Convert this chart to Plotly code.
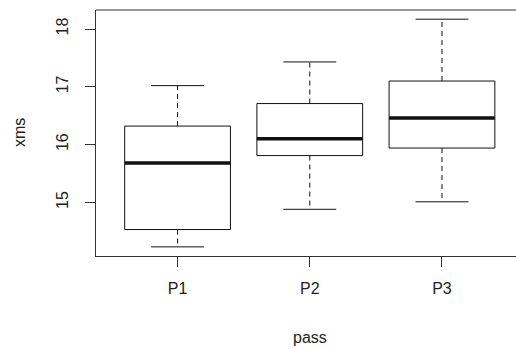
import plotly.graph_objects as go

categories = ["P1", "P2", "P3"]
lower = [14.23, 14.88, 15.01]
q1 = [14.53, 15.81, 15.94]
median = [15.68, 16.10, 16.46]
q3 = [16.32, 16.71, 17.10]
upper = [17.02, 17.43, 18.17]
y_ticks = [15, 16, 17, 18]

BOX_HALF = 0.4
CAP_HALF = 0.2
INK = "#111111"
FRAME = "#333333"
FONT = "Liberation Sans, Arial, sans-serif"

fig = go.Figure()
xpos = list(range(1, len(categories) + 1))

for i, x in enumerate(xpos):
    # dashed whiskers
    for a, b in ((q3[i], upper[i]), (q1[i], lower[i])):
        fig.add_trace(go.Scatter(x=[x, x], y=[a, b], mode="lines",
                                 line=dict(color=INK, width=1, dash="5px,4px"),
                                 hoverinfo="skip", showlegend=False))
    # caps
    for v in (upper[i], lower[i]):
        fig.add_trace(go.Scatter(x=[x - CAP_HALF, x + CAP_HALF], y=[v, v], mode="lines",
                                 line=dict(color=INK, width=1),
                                 hoverinfo="skip", showlegend=False))
    # box
    fig.add_trace(go.Scatter(
        x=[x - BOX_HALF, x + BOX_HALF, x + BOX_HALF, x - BOX_HALF, x - BOX_HALF],
        y=[q1[i], q1[i], q3[i], q3[i], q1[i]],
        mode="lines", fill="toself", fillcolor="white",
        line=dict(color=INK, width=1), hoverinfo="skip", showlegend=False))
    # median
    fig.add_trace(go.Scatter(x=[x - BOX_HALF, x + BOX_HALF], y=[median[i], median[i]],
                             mode="lines", line=dict(color=INK, width=3.5),
                             hoverinfo="skip", showlegend=False))

fig.update_layout(
    width=516, height=349,
    margin=dict(l=96, r=0, t=10, b=93),
    paper_bgcolor="white", plot_bgcolor="white",
    font=dict(family=FONT, size=16, color="#222222"),
    xaxis=dict(range=[0.383, 0.383 + 420 / 132.2], tickvals=xpos, ticktext=categories,
               showgrid=False, zeroline=False, showline=True, linecolor=FRAME, linewidth=1,
               ticks="outside", ticklen=10, tickcolor=FRAME, tickwidth=1,
               ticklabelstandoff=8),
    yaxis=dict(range=[14.072, 18.329], tickvals=y_ticks, tickangle=-90,
               showgrid=False, zeroline=False, showline=True, linecolor=FRAME, linewidth=1,
               ticks="outside", ticklen=10, tickcolor=FRAME, tickwidth=1,
               ticklabelstandoff=11),
    shapes=[dict(type="line", xref="paper", yref="paper", x0=0, x1=1.05, y0=1, y1=1,
                 line=dict(color=FRAME, width=1))],
    annotations=[
        dict(text="xms", xref="paper", yref="paper", x=-(96 - 19) / 420, y=0.5,
             showarrow=False, textangle=-90, xanchor="center", yanchor="middle"),
        dict(text="pass", xref="x", yref="paper", x=2.0, y=-(337 - 255.5) / 246,
             showarrow=False, xanchor="center", yanchor="middle"),
    ],
)

fig.write_html("out.html", config={"displayModeBar": False},
               post_script="document.body.style.margin='0';document.body.style.overflow='hidden';")
